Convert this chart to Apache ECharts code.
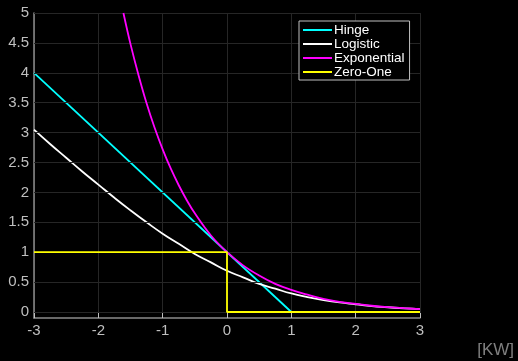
<!DOCTYPE html>
<html><head><meta charset="utf-8">
<script src="https://cdn.jsdelivr.net/npm/echarts@6/dist/echarts.min.js"></script>
<style>html,body{margin:0;padding:0;background:#000}#c{width:518px;height:361px}</style>
</head><body><div id="c"></div>
<script>
var yTicks = [0,0.5,1,1.5,2,2.5,3,3.5,4,4.5,5];
var seriesNames = ['Hinge','Logistic','Exponential','Zero-One'];
var hingeX = [-3, 1];
var hingeY = [4, 0];
var logX = [-3,-2.75,-2.5,-2.25,-2,-1.75,-1.5,-1.25,-1,-0.75,-0.5,-0.25,0,0.25,0.5,0.75,1,1.25,1.5,1.75,2,2.25,2.5,2.75,3];
var logY = [3.05,2.81,2.58,2.35,2.13,1.91,1.70,1.50,1.31,1.14,0.97,0.83,0.69,0.58,0.47,0.39,0.31,0.25,0.20,0.16,0.13,0.10,0.08,0.06,0.05];
var expX = [-1.61,-1.5,-1.375,-1.25,-1.125,-1,-0.875,-0.75,-0.625,-0.5,-0.25,0,0.25,0.5,0.75,1,1.25,1.5,1.75,2,2.25,2.5,2.75,3];
var expY = [5.0,4.48,3.96,3.49,3.08,2.72,2.40,2.12,1.87,1.65,1.28,1.0,0.78,0.61,0.47,0.37,0.29,0.22,0.17,0.135,0.105,0.082,0.064,0.05];
var zoX = [-3, 0, 0, 3];
var zoY = [1, 1, 0, 0];
var colors = ['#00ffff','#ffffff','#ff00ff','#ffff00'];

function pairs(xs, ys){ return xs.map(function(x,i){ return [x, ys[i]]; }); }

var chart = echarts.init(document.getElementById('c'));
var lbl = {color:'#bfbfbf', fontSize:15, fontFamily:'Liberation Sans'};
chart.setOption({
  backgroundColor:'#000',
  animation:false,
  grid:{left:34, right:98, top:13, bottom:43},
  xAxis:{type:'value', min:-3, max:3, interval:1,
    axisLine:{onZero:false, lineStyle:{color:'#8c8c8c', width:1.5}},
    axisTick:{inside:true, length:5, lineStyle:{color:'#bfbfbf'}},
    axisLabel:Object.assign({margin:5}, lbl),
    splitLine:{show:true, lineStyle:{color:'#262626'}}},
  yAxis:{type:'value', min:-0.1, max:5,
    axisLine:{show:true, onZero:false, lineStyle:{color:'#8c8c8c', width:1.5}},
    axisTick:{show:true, inside:true, length:5, customValues:yTicks, lineStyle:{color:'#bfbfbf'}},
    axisLabel:Object.assign({margin:5, customValues:yTicks, formatter:function(v){return String(v);}}, lbl),
    splitLine:{show:false}},
  legend:{orient:'vertical', left:299, top:21, z:20, data:seriesNames,
    icon:'rect', itemWidth:29, itemHeight:2, itemGap:0,
    padding:[2,5,1,4], borderColor:'#bfbfbf', borderWidth:1, backgroundColor:'#000',
    textStyle:{color:'#ffffff', fontSize:13.5, fontFamily:'Liberation Sans', lineHeight:14, padding:[0,0,0,-3]}},
  graphic:[{type:'text', right:4, bottom:2, style:{text:'[KW]', fill:'#7f7f7f', fontSize:17, fontFamily:'Liberation Sans'}}],
  series:[
    {name:'Hinge', type:'line', data:pairs(hingeX,hingeY), showSymbol:false, color:colors[0], lineStyle:{width:1.8},
      markLine:{silent:true, symbol:'none', label:{show:false}, lineStyle:{color:'#262626', width:1, type:'solid'},
        data:yTicks.map(function(v){return {yAxis:v};})}, z:3},
    {name:'Logistic', type:'line', data:pairs(logX,logY), showSymbol:false, smooth:0.5, color:colors[1], lineStyle:{width:1.8}, z:4},
    {name:'Exponential', type:'line', data:pairs(expX,expY), showSymbol:false, smooth:0.4, color:colors[2], lineStyle:{width:1.8}, z:5},
    {name:'Zero-One', type:'line', data:pairs(zoX,zoY), showSymbol:false, color:colors[3], lineStyle:{width:1.8}, z:6}
  ]
});
</script></body></html>
